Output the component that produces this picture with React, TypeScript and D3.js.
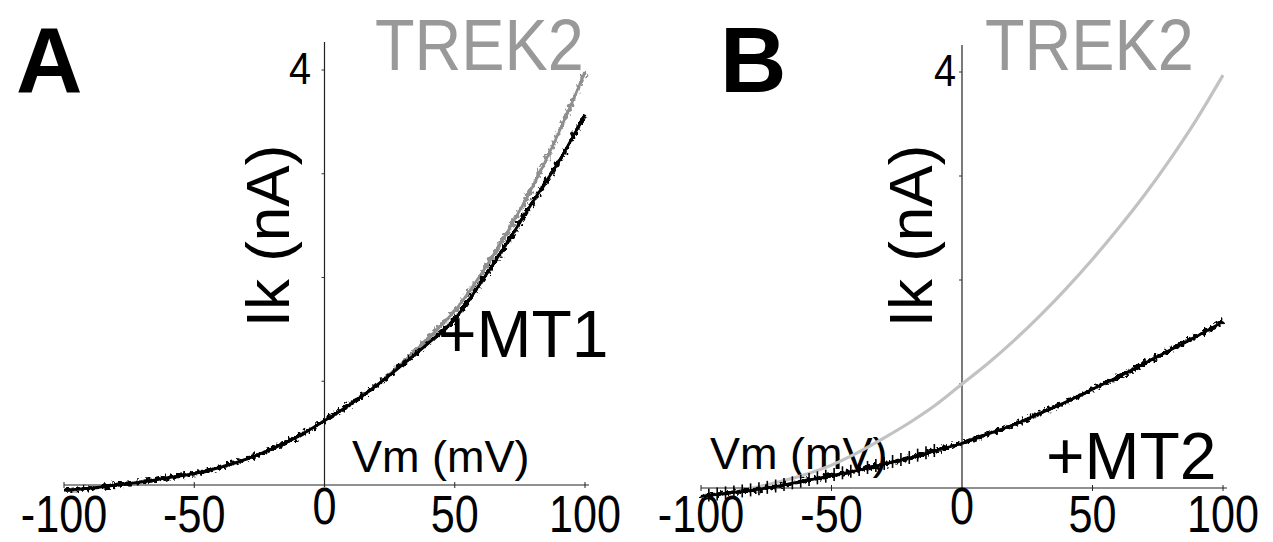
import React from "react";
import * as d3 from "d3";

const voltages = [-100, -90, -80, -70, -60, -50, -40, -30, -20, -10, 0, 10, 20, 30, 40, 50, 60, 70, 80, 90, 100];
const trek2A = [-0.05, -0.03, 0.0, 0.03, 0.07, 0.11, 0.17, 0.25, 0.35, 0.47, 0.62, 0.78, 0.96, 1.18, 1.42, 1.68, 2.03, 2.43, 2.88, 3.4, 3.98];
const mt1A = [-0.05, -0.03, 0.0, 0.03, 0.07, 0.11, 0.17, 0.25, 0.35, 0.47, 0.62, 0.78, 0.96, 1.16, 1.37, 1.6, 1.95, 2.33, 2.73, 3.12, 3.57];
const trek2B = [-0.08, -0.05, 0.0, 0.06, 0.13, 0.22, 0.34, 0.48, 0.63, 0.8, 1.0, 1.2, 1.42, 1.66, 1.92, 2.2, 2.5, 2.82, 3.17, 3.55, 3.97];
const mt2B = [-0.08, -0.05, -0.02, 0.02, 0.07, 0.12, 0.17, 0.23, 0.29, 0.36, 0.43, 0.52, 0.61, 0.72, 0.83, 0.95, 1.07, 1.2, 1.33, 1.46, 1.6];
const xTicks = [-100, -50, 0, 50, 100];
const yTicks = [1, 2, 3, 4];

const FONT = "'Liberation Sans', Arial, Helvetica, sans-serif";

type PanelProps = {
  letter: string;
  x0: number; x1: number; yBase: number; yTop: number; axisTop: number;
  control: number[]; treated: number[]; treatedLabel: string;
  controlColor: string; controlNoisy: boolean; spikes: boolean;
  letterX: number; trekX: number; ikX: number; fourX: number;
  treatedLabelX: number; treatedLabelY: number; vmX: number; vmY: number;
};

function Panel(p: PanelProps) {
  const x = d3.scaleLinear().domain([-100, 100]).range([p.x0, p.x1]);
  const y = d3.scaleLinear().domain([0, 4]).range([p.yBase, p.yTop]);
  const line = d3.line<number>().x((_, i) => x(voltages[i])).y((d) => y(d)).curve(d3.curveMonotoneX);
  const interp = (v: number) => {
    const i = Math.min(voltages.length - 2, Math.max(0, Math.floor((v + 100) / 10)));
    const t = (v - voltages[i]) / 10;
    return p.treated[i] * (1 - t) + p.treated[i + 1] * t;
  };
  const spikeV = p.spikes ? d3.range(-97, -10, 3.2) : [];
  const yAxisTopVal = y.invert(p.axisTop);
  const tickLabelY = 532;
  const dControl = line(p.control) || "";
  const dTreated = line(p.treated) || "";
  return (
    <g>
      <text x={p.letterX} y={92} fontFamily={FONT} fontWeight="bold" fontSize={92} fill="#000">{p.letter}</text>
      <g transform={`translate(${p.trekX},70) scale(0.9,1)`}>
        <text x={0} y={0} fontFamily={FONT} fontSize={72} fill="#999">TREK2</text>
      </g>
      <line x1={x(-100)} x2={x(101.5)} y1={y(0)} y2={y(0)} stroke="#222" strokeWidth={1.2} />
      <line x1={x(0)} x2={x(0)} y1={y(-0.02)} y2={y(yAxisTopVal)} stroke="#222" strokeWidth={1.2} />
      {xTicks.filter((t) => t !== 0).map((t) => (
        <line key={t} x1={x(t)} x2={x(t)} y1={y(0) - 3} y2={y(0) + 3} stroke="#222" strokeWidth={1} />
      ))}
      {yTicks.map((t) => (
        <line key={t} x1={x(0) - 3} x2={x(0)} y1={y(t)} y2={y(t)} stroke="#333" strokeWidth={1} />
      ))}
      {xTicks.map((t) => (
        <g key={t} transform={`translate(${x(t)},${t === 0 ? tickLabelY - 8 : tickLabelY}) scale(0.83,1)`}>
          <text x={0} y={0} textAnchor="middle" fontFamily={FONT} fontSize={52} fill="#000">{String(t)}</text>
        </g>
      ))}
      <g transform={`translate(${p.fourX},${y(4) + 14}) scale(0.9,1)`}>
        <text x={0} y={0} textAnchor="middle" fontFamily={FONT} fontSize={44} fill="#000">4</text>
      </g>
      <text transform={`translate(${p.ikX},${236}) rotate(-90)`} textAnchor="middle" fontFamily={FONT} fontSize={62} fill="#000">Ik (nA)</text>
      <text x={p.vmX} y={p.vmY} fontFamily={FONT} fontSize={45} fill="#000">Vm (mV)</text>
      {p.controlNoisy ? (
        <g>
          <path d={dControl} fill="none" stroke={p.controlColor} strokeWidth={2.6} filter="url(#soft)" />
          <path d={dControl} fill="none" stroke={p.controlColor} strokeWidth={3.6} filter="url(#jitter)" />
        </g>
      ) : (
        <path d={dControl} fill="none" stroke={p.controlColor} strokeWidth={3.2} filter="url(#soft)" />
      )}
      <path d={dTreated} fill="none" stroke="#000" strokeWidth={2.8} filter="url(#soft)" />
      <path d={dTreated} fill="none" stroke="#000" strokeWidth={3.8} filter="url(#jitter)" />
      {spikeV.map((v, i) => (
        <line key={i} x1={x(v)} x2={x(v)} y1={y(interp(v)) - 7} y2={y(interp(v)) + 6} stroke="#000" strokeWidth={1.6} />
      ))}
      <text x={p.treatedLabelX} y={p.treatedLabelY} fontFamily={FONT} fontSize={66} fill="#000">{p.treatedLabel}</text>
    </g>
  );
}

export default function App() {
  return (
    <svg width={1273} height={542} style={{ position: "absolute", left: 0, top: 0, background: "#fff" }}>
      <defs>
        <filter id="jitter" filterUnits="userSpaceOnUse" x={0} y={0} width={1273} height={542}>
          <feTurbulence type="fractalNoise" baseFrequency="0.3 0.25" numOctaves={2} seed={4} result="n" />
          <feDisplacementMap in="SourceGraphic" in2="n" scale={9} xChannelSelector="R" yChannelSelector="G" result="d" />
          <feGaussianBlur in="d" stdDeviation={0.6} />
        </filter>
        <filter id="soft" filterUnits="userSpaceOnUse" x={0} y={0} width={1273} height={542}>
          <feGaussianBlur stdDeviation={0.6} />
        </filter>
      </defs>
      <rect x={0} y={0} width={1273} height={542} fill="#fff" />
      <Panel letter="A" x0={64} x1={585} yBase={485} yTop={70} axisTop={42}
        control={trek2A} treated={mt1A} treatedLabel="+MT1" controlColor="#8f8f8f" controlNoisy={true} spikes={false}
        letterX={16} trekX={375} ikX={289} fourX={300} treatedLabelX={438} treatedLabelY={357} vmX={352} vmY={472} />
      <Panel letter="B" x0={701} x1={1223} yBase={488} yTop={72} axisTop={45}
        control={trek2B} treated={mt2B} treatedLabel="+MT2" controlColor="#c2c2c2" controlNoisy={false} spikes={true}
        letterX={720} trekX={985} ikX={932} fourX={945} treatedLabelX={1046} treatedLabelY={479} vmX={710} vmY={469} />
    </svg>
  );
}
